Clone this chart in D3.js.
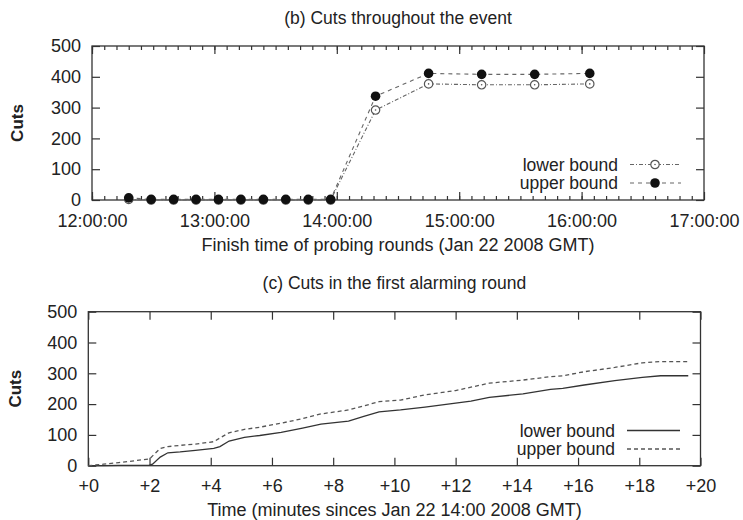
<!DOCTYPE html>
<html>
<head>
<meta charset="utf-8">
<script src="https://cdn.jsdelivr.net/npm/d3@7"></script>
<style>
body { margin: 0; background: #fff; }
svg text { font-family: "Liberation Sans", Arial, sans-serif; fill: #222; }
</style>
</head>
<body>
<svg width="743" height="520"></svg>
<script>
// (b) cuts per probing round
let roundTimes = ["12:18", "12:29", "12:40", "12:51", "13:02", "13:13", "13:24", "13:35", "13:46", "13:57", "14:19", "14:45", "15:11", "15:37", "16:04"];
let roundLower = [2, 0, 0, 0, 0, 0, 0, 0, 0, 0, 292, 377, 374, 374, 377];
let roundUpper = [7, 2, 2, 2, 2, 2, 2, 2, 2, 2, 337, 411, 408, 408, 411];
let hourTicks = ["12:00", "13:00", "14:00", "15:00", "16:00", "17:00"];

// (c) cuts in the first alarming round, minutes since 14:00
let minutes = [0, 0.5, 1, 1.5, 2, 2.1, 2.35, 2.6, 3, 3.5, 4.1, 4.3, 4.6, 5.1, 5.6, 6.3, 7, 7.6, 8.5, 9, 9.5, 10.2, 11, 12, 12.5, 13.1, 14.2, 15.1, 15.5, 16.2, 17.2, 18.1, 18.7, 19.6];
let alarmLower = [0, 0, 1, 1, 2, 5, 28, 42, 45, 50, 56, 62, 80, 92, 98, 108, 122, 135, 145, 160, 175, 181, 190, 203, 210, 222, 233, 248, 251, 262, 276, 287, 292, 292];
let alarmUpper = [0, 5, 10, 16, 22, 32, 56, 62, 66, 70, 78, 90, 107, 118, 125, 138, 153, 168, 181, 194, 208, 213, 230, 244, 255, 268, 278, 289, 292, 305, 319, 334, 338, 338];
let minuteTicks = [0, 2, 4, 6, 8, 10, 12, 14, 16, 18, 20];

let cutTicks = [0, 100, 200, 300, 400, 500];

var svg = d3.select("svg");
var parseTime = d3.timeParse("%H:%M");

function frame(g, x, y, xTicks, minorTicks, fmt) {
    let [x0, x1] = x.range();
    let [y0, y1] = y.range();
    // inward ticks on all four sides
    g.append("g").attr("transform", `translate(0,${y0})`)
        .call(d3.axisBottom(x).tickValues(xTicks).tickSize(-8).tickFormat(fmt).tickPadding(14));
    g.append("g").attr("transform", `translate(0,${y1})`)
        .call(d3.axisTop(x).tickValues(xTicks).tickSize(-8).tickFormat(""));
    g.append("g").attr("transform", `translate(${x0},0)`)
        .call(d3.axisLeft(y).tickValues(cutTicks).tickSize(-8).tickPadding(11));
    g.append("g").attr("transform", `translate(${x1},0)`)
        .call(d3.axisRight(y).tickValues(cutTicks).tickSize(-8).tickFormat(""));
    if (minorTicks) {
        g.append("g").attr("transform", `translate(0,${y0})`)
            .call(d3.axisBottom(x).tickValues(minorTicks).tickSize(-4).tickFormat(""));
        g.append("g").attr("transform", `translate(0,${y1})`)
            .call(d3.axisTop(x).tickValues(minorTicks).tickSize(-4).tickFormat(""));
    }
    g.selectAll(".domain").remove();
    g.selectAll(".tick line").attr("stroke", "#333").attr("stroke-width", 1.2);
    g.selectAll(".tick text").attr("font-size", 18).attr("fill", "#222");
    g.append("rect")
        .attr("x", x0).attr("y", y1)
        .attr("width", x1 - x0).attr("height", y0 - y1)
        .attr("fill", "none").attr("stroke", "#333").attr("stroke-width", 1.3);
}

function labels(g, x, y, title, titleY, xLabel, xLabelY, yLabelX) {
    let cx = (x.range()[0] + x.range()[1]) / 2;
    let cy = (y.range()[0] + y.range()[1]) / 2;
    g.append("text").attr("x", cx).attr("y", titleY).attr("text-anchor", "middle")
        .attr("font-size", 17.5).text(title);
    g.append("text").attr("x", cx).attr("y", xLabelY).attr("text-anchor", "middle")
        .attr("font-size", 18).text(xLabel);
    g.append("text").attr("transform", `translate(${yLabelX},${cy}) rotate(-90)`)
        .attr("text-anchor", "middle").attr("dy", "0.35em")
        .attr("font-size", 17).attr("font-weight", "bold").text("Cuts");
}

// ---- top chart ----
let topG = svg.append("g");
let xTime = d3.scaleTime()
    .domain([parseTime(hourTicks[0]), parseTime(hourTicks[hourTicks.length - 1])])
    .range([92, 704]);
let yTop = d3.scaleLinear().domain([0, 500]).range([200, 46]);

let minor = d3.timeMinute.every(6).range(xTime.domain()[0], xTime.domain()[1]);
frame(topG, xTime, yTop, hourTicks.map(parseTime), minor, d3.timeFormat("%H:%M:%S"));
labels(topG, xTime, yTop, "(b) Cuts throughout the event", 24,
    "Finish time of probing rounds (Jan 22 2008 GMT)", 251, 17);

let rounds = roundTimes.map((t, i) => ({t: parseTime(t), lo: roundLower[i], up: roundUpper[i]}));

topG.append("path").datum(rounds)
    .attr("fill", "none").attr("stroke", "#666").attr("stroke-width", 1.1)
    .attr("stroke-dasharray", "4,2,1,2")
    .attr("d", d3.line().x(d => xTime(d.t)).y(d => yTop(d.lo)));
topG.append("path").datum(rounds)
    .attr("fill", "none").attr("stroke", "#666").attr("stroke-width", 1.1)
    .attr("stroke-dasharray", "4,4")
    .attr("d", d3.line().x(d => xTime(d.t)).y(d => yTop(d.up)));

function openMark(sel) {
    sel.append("circle").attr("r", 4.2).attr("fill", "#fff").attr("stroke", "#555").attr("stroke-width", 1.2);
    sel.append("circle").attr("r", 0.8).attr("fill", "#555");
}
function filledMark(sel) {
    sel.append("circle").attr("r", 4.8).attr("fill", "#111");
}

topG.selectAll(".lo").data(rounds).enter().append("g").attr("class", "lo")
    .attr("transform", d => `translate(${xTime(d.t)},${yTop(d.lo)})`)
    .call(openMark);
topG.selectAll(".up").data(rounds).enter().append("g").attr("class", "up")
    .attr("transform", d => `translate(${xTime(d.t)},${yTop(d.up)})`)
    .call(filledMark);

// legend
let topLegend = [
    {name: "lower bound", y: 170.5, dash: "4,2,1,2", mark: openMark},
    {name: "upper bound", y: 189, dash: "4,4", mark: filledMark}
];
topLegend.forEach(l => {
    topG.append("text").attr("x", 618).attr("y", l.y).attr("text-anchor", "end")
        .attr("font-size", 17.5).text(l.name);
    topG.append("line").attr("x1", 630).attr("x2", 681).attr("y1", l.y - 6).attr("y2", l.y - 6)
        .attr("stroke", "#666").attr("stroke-width", 1.1).attr("stroke-dasharray", l.dash);
    topG.append("g").attr("transform", `translate(655,${l.y - 6})`).call(l.mark);
});

// ---- bottom chart ----
let botG = svg.append("g");
let xMin = d3.scaleLinear().domain([0, 20]).range([88.3, 700.5]);
let yBot = d3.scaleLinear().domain([0, 500]).range([465.7, 311.7]);

frame(botG, xMin, yBot, minuteTicks, null, d => "+" + d);
labels(botG, xMin, yBot, "(c) Cuts in the first alarming round", 289,
    "Time (minutes sinces Jan 22 14:00 2008 GMT)", 516, 15);

let alarm = minutes.map((m, i) => ({m: m, lo: alarmLower[i], up: alarmUpper[i]}));
botG.append("path").datum(alarm)
    .attr("fill", "none").attr("stroke", "#333").attr("stroke-width", 1.3)
    .attr("d", d3.line().x(d => xMin(d.m)).y(d => yBot(d.lo)));
botG.append("path").datum(alarm)
    .attr("fill", "none").attr("stroke", "#555").attr("stroke-width", 1.3)
    .attr("stroke-dasharray", "4,3")
    .attr("d", d3.line().x(d => xMin(d.m)).y(d => yBot(d.up)));

let botLegend = [
    {name: "lower bound", y: 436.5, dash: null, color: "#333"},
    {name: "upper bound", y: 455, dash: "4,3", color: "#555"}
];
botLegend.forEach(l => {
    botG.append("text").attr("x", 615).attr("y", l.y).attr("text-anchor", "end")
        .attr("font-size", 17.5).text(l.name);
    botG.append("line").attr("x1", 627).attr("x2", 680).attr("y1", l.y - 6).attr("y2", l.y - 6)
        .attr("stroke", l.color).attr("stroke-width", 1.3).attr("stroke-dasharray", l.dash);
});
</script>
</body>
</html>
